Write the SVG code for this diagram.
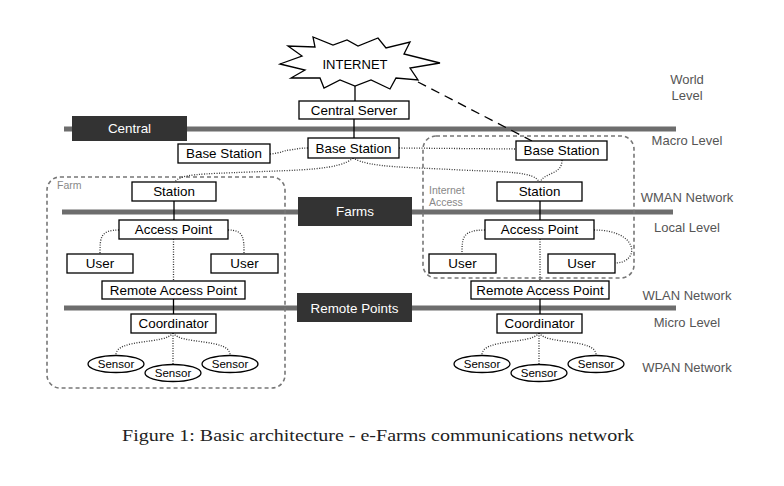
<svg xmlns="http://www.w3.org/2000/svg" width="784" height="486" viewBox="0 0 784 486">
<style>
  text { font-family: "Liberation Sans", Arial, sans-serif; }
  .box { fill: #fff; stroke: #000; stroke-width: 1.3; }
  .lbl { font-size: 13.4px; fill: #000; text-anchor: middle; }
  .sen { font-size: 11.5px; fill: #000; text-anchor: middle; }
  .bar { stroke: #6d6d6d; stroke-width: 5; }
  .dark { fill: #333; }
  .dlbl { font-size: 13.4px; fill: #fff; text-anchor: middle; }
  .lvl { font-size: 13px; fill: #555; text-anchor: middle; }
  .area { fill: none; stroke: #777; stroke-width: 1.6; stroke-dasharray: 4 3; }
  .alab { font-size: 10.5px; fill: #888; }
  .solid { fill: none; stroke: #000; stroke-width: 1.3; }
  .dot { fill: none; stroke: #333; stroke-width: 1.3; stroke-dasharray: 1 1.5; }
  .dash { fill: none; stroke: #000; stroke-width: 1.3; stroke-dasharray: 9 6; }
</style>

<g id="levels">
  <line class="bar" x1="64" y1="129" x2="676" y2="129"/>
  <line class="bar" x1="62" y1="212" x2="673" y2="212"/>
  <line class="bar" x1="64" y1="308" x2="676" y2="308"/>
</g>

<g id="areas">
  <rect class="area" x="47" y="177" width="238" height="211" rx="13"/>
  <text class="alab" x="57" y="189">Farm</text>
  <rect class="area" x="423" y="136" width="211" height="142" rx="13"/>
  <text class="alab" x="429" y="194">Internet</text>
  <text class="alab" x="429" y="206">Access</text>
</g>

<g id="level-central">
  <rect class="dark" x="72" y="116" width="115" height="25"/>
  <text class="dlbl" x="129.5" y="133">Central</text>
</g>
<g id="level-farms">
  <rect class="dark" x="298" y="197" width="114" height="29"/>
  <text class="dlbl" x="355" y="216">Farms</text>
</g>
<g id="level-remote">
  <rect class="dark" x="297" y="293" width="115" height="29"/>
  <text class="dlbl" x="354.5" y="312.5">Remote Points</text>
</g>

<g id="connectors">
  <line class="solid" x1="355" y1="86" x2="355" y2="101"/>
  <line class="solid" x1="354" y1="119" x2="354" y2="138"/>
  <line class="dash" x1="418" y1="82" x2="532" y2="141"/>
  <path class="dot" d="M270,154 C282,153 285,150 290,150 C297,149 300,148 308,148"/>
  <line class="dot" x1="399" y1="148" x2="516" y2="149"/>
  <path class="dot" d="M353,158 C340,170 300,170 250,172 C200,174 180,174 175,182"/>
  <path class="dot" d="M353,158 C370,168 410,167 460,170 C510,172 535,172 539,182"/>
  <path class="dot" d="M562,160 C562,175 545,172 540,182"/>
  <line class="solid" x1="174" y1="201" x2="174" y2="220"/>
  <line class="solid" x1="540" y1="201" x2="540" y2="220"/>
  <path class="dot" d="M119,230 C100,230 100,238 100,254"/>
  <path class="dot" d="M228,230 C244,230 244,238 244,254"/>
  <line class="dot" x1="173.5" y1="239" x2="173.5" y2="281"/>
  <path class="dot" d="M485,230 C462,230 462,238 462,254"/>
  <path class="dot" d="M594,230 C640,230 640,263 615,263"/>
  <line class="dot" x1="540" y1="239" x2="540" y2="281"/>
  <line class="solid" x1="173.5" y1="299" x2="173.5" y2="314"/>
  <line class="solid" x1="540" y1="299" x2="540" y2="314"/>
  <path class="dot" d="M173,333 C165,345 116,338 116,355"/>
  <line class="dot" x1="173" y1="333" x2="173" y2="364"/>
  <path class="dot" d="M173,333 C181,345 230,338 230,355"/>
  <path class="dot" d="M539,333 C531,345 482,338 482,355"/>
  <line class="dot" x1="539" y1="333" x2="539" y2="364"/>
  <path class="dot" d="M539,333 C547,345 596,338 596,355"/>
</g>

<g id="internet">
  <polygon fill="#fff" stroke="#000" stroke-width="1.3" points="280,64 302,56 288,46 315,47 313,37 333,45 347,40 358,46 378,38 386,48 410,42 404,54 440,63 410,68 418,80 396,78 390,89 371,80 355,86 340,80 324,88 320,78 291,78 305,70"/>
  <text class="lbl" x="355" y="69" style="font-size:13px">INTERNET</text>
</g>
<g id="central-server">
  <rect class="box" x="299" y="101" width="110" height="18"/>
  <text class="lbl" x="354" y="115">Central Server</text>
</g>
<g id="base-station-center">
  <rect class="box" x="308" y="138" width="91" height="20"/>
  <text class="lbl" x="353.5" y="152.5">Base Station</text>
</g>
<g id="base-station-left">
  <rect class="box" x="178" y="144" width="92" height="19"/>
  <text class="lbl" x="224" y="158">Base Station</text>
</g>
<g id="base-station-right">
  <rect class="box" x="516" y="141" width="91" height="19"/>
  <text class="lbl" x="561.5" y="155">Base Station</text>
</g>
<g id="station-left">
  <rect class="box" x="132" y="182" width="84" height="19"/>
  <text class="lbl" x="174" y="196">Station</text>
</g>
<g id="station-right">
  <rect class="box" x="497" y="182" width="85" height="19"/>
  <text class="lbl" x="539.5" y="196">Station</text>
</g>
<g id="access-point-left">
  <rect class="box" x="119" y="220" width="109" height="19"/>
  <text class="lbl" x="173.5" y="234">Access Point</text>
</g>
<g id="access-point-right">
  <rect class="box" x="485" y="220" width="109" height="19"/>
  <text class="lbl" x="539.5" y="234">Access Point</text>
</g>
<g id="user-1">
  <rect class="box" x="67" y="254" width="66" height="19"/>
  <text class="lbl" x="100" y="268">User</text>
</g>
<g id="user-2">
  <rect class="box" x="211" y="254" width="67" height="19"/>
  <text class="lbl" x="244.5" y="268">User</text>
</g>
<g id="user-3">
  <rect class="box" x="429" y="254" width="67" height="19"/>
  <text class="lbl" x="462.5" y="268">User</text>
</g>
<g id="user-4">
  <rect class="box" x="548" y="254" width="67" height="19"/>
  <text class="lbl" x="581.5" y="268">User</text>
</g>
<g id="remote-access-point-left">
  <rect class="box" x="102" y="281" width="143" height="18"/>
  <text class="lbl" x="173.5" y="294.5">Remote Access Point</text>
</g>
<g id="remote-access-point-right">
  <rect class="box" x="471" y="281" width="138" height="18"/>
  <text class="lbl" x="540" y="294.5">Remote Access Point</text>
</g>
<g id="coordinator-left">
  <rect class="box" x="131" y="314" width="85" height="19"/>
  <text class="lbl" x="173.5" y="328">Coordinator</text>
</g>
<g id="coordinator-right">
  <rect class="box" x="497" y="314" width="85" height="19"/>
  <text class="lbl" x="539.5" y="328">Coordinator</text>
</g>
<g id="sensor-1"><ellipse class="box" cx="116" cy="364" rx="28" ry="8.5"/><text class="sen" x="116" y="368">Sensor</text></g>
<g id="sensor-2"><ellipse class="box" cx="173" cy="373" rx="28" ry="8.5"/><text class="sen" x="173" y="377">Sensor</text></g>
<g id="sensor-3"><ellipse class="box" cx="230" cy="364" rx="28" ry="8.5"/><text class="sen" x="230" y="368">Sensor</text></g>
<g id="sensor-4"><ellipse class="box" cx="482" cy="364" rx="28" ry="8.5"/><text class="sen" x="482" y="368">Sensor</text></g>
<g id="sensor-5"><ellipse class="box" cx="539" cy="373" rx="28" ry="8.5"/><text class="sen" x="539" y="377">Sensor</text></g>
<g id="sensor-6"><ellipse class="box" cx="596" cy="364" rx="28" ry="8.5"/><text class="sen" x="596" y="368">Sensor</text></g>

<g id="level-labels">
  <text class="lvl" x="687" y="84">World</text>
  <text class="lvl" x="687" y="100">Level</text>
  <text class="lvl" x="687" y="144.5">Macro Level</text>
  <text class="lvl" x="687" y="201.5">WMAN Network</text>
  <text class="lvl" x="687" y="231.5">Local Level</text>
  <text class="lvl" x="687" y="299.5">WLAN Network</text>
  <text class="lvl" x="687" y="326.5">Micro Level</text>
  <text class="lvl" x="687" y="371.5">WPAN Network</text>
</g>

<text x="122" y="441" style="font-family:'Liberation Serif','Times New Roman',serif;font-size:17px;fill:#222" textLength="512" lengthAdjust="spacingAndGlyphs">Figure 1: Basic architecture - e-Farms communications network</text>
</svg>
